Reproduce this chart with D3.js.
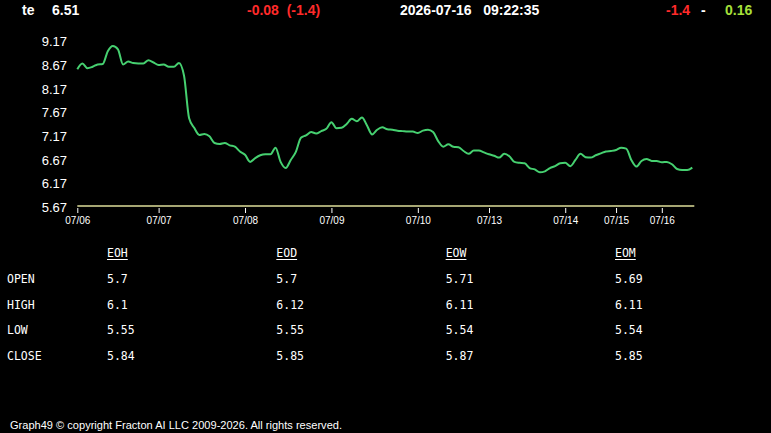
<!DOCTYPE html>
<html>
<head>
<meta charset="utf-8">
<script src="https://cdn.jsdelivr.net/npm/d3@7"></script>
<style>
  html, body { margin: 0; padding: 0; background: #000; overflow: hidden; }
</style>
</head>
<body>
<div id="chart"></div>
<script>
var width = 771;
var height = 433;

// header
var symbol = "te";
var lastPrice = "6.51";
var change = "-0.08  (-1.4)";
var stamp = "2026-07-16   09:22:35";
var rangeLow = "-1.4";
var rangeHigh = "0.16";

// price series, one value per sample, grouped by trading day
var dayLabels = ["07/06", "07/07", "07/08", "07/09", "07/10", "07/13", "07/14", "07/15", "07/16"];
var dayCounts = [16, 17, 17, 17, 14, 15, 10, 9, 7];
var prices = [
  8.59, 8.71, 8.61, 8.64, 8.69, 8.70, 8.97, 9.08, 9.01, 8.69, 8.75, 8.72, 8.71, 8.71, 8.78, 8.73,
  8.68, 8.69, 8.64, 8.64, 8.72, 8.45, 7.55, 7.35, 7.20, 7.22, 7.17, 7.03, 7.01, 7.03, 6.98, 6.95, 6.85,
  6.78, 6.63, 6.71, 6.77, 6.79, 6.79, 6.93, 6.63, 6.50, 6.67, 6.84, 7.14, 7.19, 7.26, 7.23, 7.28, 7.33,
  7.47, 7.34, 7.35, 7.43, 7.54, 7.49, 7.57, 7.40, 7.21, 7.31, 7.36, 7.32, 7.31, 7.29, 7.28, 7.27, 7.27,
  7.24, 7.29, 7.31, 7.26, 7.07, 6.95, 7.00, 6.95, 6.94, 6.86, 6.80, 6.87, 6.87, 6.83,
  6.79, 6.76, 6.72, 6.80, 6.75, 6.63, 6.61, 6.60, 6.50, 6.47, 6.41, 6.43, 6.50, 6.54, 6.60,
  6.61, 6.54, 6.67, 6.80, 6.73, 6.72, 6.77, 6.81, 6.85, 6.86,
  6.88, 6.93, 6.91, 6.67, 6.53, 6.65, 6.69, 6.65, 6.65,
  6.62, 6.63, 6.58, 6.48, 6.46, 6.46, 6.51
];
var refLevel = [5.70];
var yTicks = [5.67, 6.17, 6.67, 7.17, 7.67, 8.17, 8.67, 9.17];

// stats table
var statRows = ["OPEN", "HIGH", "LOW", "CLOSE"];
var periods = ["EOH", "EOD", "EOW", "EOM"];
var eoh = [5.7, 6.1, 5.55, 5.84];
var eod = [5.7, 6.12, 5.55, 5.85];
var eow = [5.71, 6.11, 5.54, 5.87];
var eom = [5.69, 6.11, 5.54, 5.85];

var footer = "Graph49 \u00a9 copyright Fracton AI LLC 2009-2026. All rights reserved.";

var canvas = d3.select("#chart")
    .append("svg")
    .attr("width", width)
    .attr("height", height)
    .style("display", "block");

canvas.append("rect")
    .attr("width", width)
    .attr("height", height)
    .attr("fill", "#000");

// ---- header ----
var header = canvas.append("g")
    .style("font-family", "Arial, 'Liberation Sans', sans-serif")
    .style("font-weight", "bold")
    .style("font-size", "14px");

var headerItems = [
    { text: symbol, x: 22, color: "#fff" },
    { text: lastPrice, x: 52, color: "#fff" },
    { text: change, x: 247, color: "#ff2a2a" },
    { text: stamp, x: 400, color: "#fff" },
    { text: rangeLow, x: 666, color: "#ff2a2a" },
    { text: "-", x: 701, color: "#fff" },
    { text: rangeHigh, x: 725, color: "#a6e03a" }
];

header.selectAll("text")
    .data(headerItems)
    .enter().append("text")
    .attr("x", function(d) { return d.x; })
    .attr("y", 15)
    .attr("fill", function(d) { return d.color; })
    .style("white-space", "pre")
    .text(function(d) { return d.text; });

// ---- chart ----
var n = prices.length;
var x = d3.scaleLinear().domain([0, n - 1]).range([77.3, 692.3]);
var y = d3.scaleLinear().domain([5.67, 9.17]).range([207.3, 41.7]);

var dayStarts = [];
var acc = 0;
dayCounts.forEach(function(c) { dayStarts.push(acc); acc += c; });

var yAxis = d3.axisLeft(y)
    .tickValues(yTicks)
    .tickSize(0)
    .tickPadding(10)
    .tickFormat(d3.format(".2f"));

var yg = canvas.append("g")
    .attr("transform", "translate(77,0)")
    .call(yAxis);
yg.select(".domain").remove();
yg.selectAll("text")
    .attr("fill", "#fff")
    .style("font-family", "Arial, 'Liberation Sans', sans-serif")
    .style("font-size", "13px");

// reference level
canvas.append("line")
    .attr("x1", x(0))
    .attr("x2", x(n - 1) + 2)
    .attr("y1", y(refLevel[0]))
    .attr("y2", y(refLevel[0]))
    .style("stroke", "#dede9a")
    .style("stroke-width", 1.5);

var xAxis = d3.axisBottom(x)
    .tickValues(dayStarts)
    .tickSize(5)
    .tickPadding(4)
    .tickFormat(function(d, i) { return dayLabels[i]; });

var xg = canvas.append("g")
    .attr("transform", "translate(0,208)")
    .call(xAxis);
xg.select(".domain").remove();
xg.selectAll("line").attr("stroke", "#fff");
xg.selectAll("text")
    .attr("fill", "#fff")
    .style("font-family", "Arial, 'Liberation Sans', sans-serif")
    .style("font-size", "10px");

var line = d3.line()
    .x(function(d, i) { return x(i); })
    .y(function(d) { return y(d); })
    .curve(d3.curveMonotoneX);

canvas.append("path")
    .datum(prices)
    .attr("d", line)
    .attr("fill", "none")
    .style("stroke", "#46d070")
    .style("stroke-width", 2);

// ---- stats table ----
var colScale = d3.scalePoint().domain(periods).range([107, 615]);
var rowScale = d3.scalePoint().domain(statRows).range([279, 356]);
var tableData = { EOH: eoh, EOD: eod, EOW: eow, EOM: eom };

var table = canvas.append("g")
    .style("font-family", "'DejaVu Sans Mono', monospace")
    .style("font-size", "11.5px")
    .attr("fill", "#fff");

var heads = table.selectAll(".head")
    .data(periods)
    .enter().append("text")
    .attr("class", "head")
    .attr("x", function(d) { return colScale(d); })
    .attr("y", 253)
    .attr("dy", "0.35em")
    .text(function(d) { return d; });

heads.each(function(d) {
    var w = this.getComputedTextLength();
    table.append("line")
        .attr("x1", colScale(d))
        .attr("x2", colScale(d) + w)
        .attr("y1", 259.5)
        .attr("y2", 259.5)
        .style("stroke", "#fff")
        .style("stroke-width", 1);
});

table.selectAll(".rowlabel")
    .data(statRows)
    .enter().append("text")
    .attr("class", "rowlabel")
    .attr("x", 7)
    .attr("y", function(d) { return rowScale(d); })
    .attr("dy", "0.35em")
    .text(function(d) { return d; });

periods.forEach(function(p) {
    table.selectAll(".val-" + p)
        .data(tableData[p])
        .enter().append("text")
        .attr("class", "val-" + p)
        .attr("x", colScale(p))
        .attr("y", function(d, i) { return rowScale(statRows[i]); })
        .attr("dy", "0.35em")
        .text(function(d) { return d; });
});

// ---- footer ----
canvas.append("text")
    .attr("x", 10)
    .attr("y", 429)
    .attr("fill", "#fff")
    .style("font-family", "Arial, 'Liberation Sans', sans-serif")
    .style("font-size", "11px")
    .attr("textLength", 332)
    .attr("lengthAdjust", "spacingAndGlyphs")
    .text(footer);
</script>
</body>
</html>
